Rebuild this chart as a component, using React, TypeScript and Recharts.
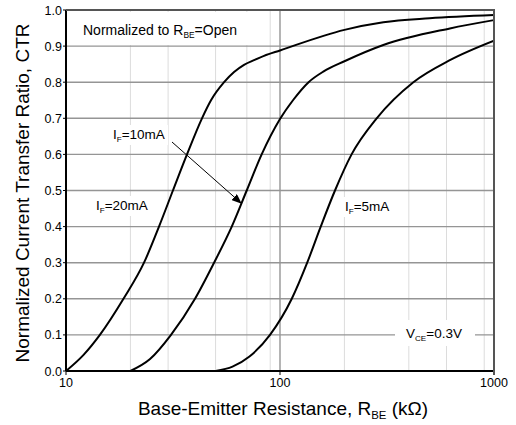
import { LineChart, Line, XAxis, YAxis, CartesianGrid } from "recharts";

// R_BE (kOhm) / normalized CTR, one pair of lists per curve
const if20R = [10, 12.05, 14.4, 18.56, 23.15, 27.2, 31.6, 36.76, 43.2, 47.6, 54.8, 61, 67.9, 75.6, 84.2, 100, 200, 304, 500, 1000];
const if20Ctr = [0, 0.044, 0.1, 0.2, 0.3, 0.4, 0.5, 0.6, 0.7, 0.75, 0.8, 0.828, 0.848, 0.861, 0.873, 0.888, 0.945, 0.966, 0.977, 0.986];

const if10R = [20, 24.7, 30.95, 40.07, 49.2, 59.5, 69.9, 82.1, 100, 115, 136, 160, 200, 304, 622, 1000];
const if10Ctr = [0, 0.033, 0.1, 0.2, 0.3, 0.4, 0.5, 0.6, 0.698, 0.75, 0.8, 0.83, 0.858, 0.903, 0.949, 0.972];

const if5R = [50, 60, 72, 89.8, 113.5, 134, 155, 180.7, 216, 283, 420, 622, 1000];
const if5Ctr = [0, 0.012, 0.04, 0.1, 0.2, 0.3, 0.4, 0.5, 0.6, 0.7, 0.8, 0.861, 0.915];

const xTicks = [10, 100, 1000];
const xMinorGrid = [20, 30, 40, 50, 60, 70, 80, 90, 200, 300, 400, 500, 600, 700, 800, 900];
const xMajorGrid = [100];
const yMajorTicks = [0, 0.1, 0.2, 0.3, 0.4, 0.5, 0.6, 0.7, 0.8, 0.9, 1.0];
const yTicks = [0, 0.05, 0.1, 0.15, 0.2, 0.25, 0.3, 0.35, 0.4, 0.45, 0.5, 0.55, 0.6, 0.65, 0.7, 0.75, 0.8, 0.85, 0.9, 0.95, 1.0];

const toRows = (rs: number[], vs: number[]) => rs.map((r, i) => ({ r, ctr: vs[i] }));

const FONT = "'Liberation Sans', Arial, sans-serif";

function YTick(props: any) {
  const { x, y, payload } = props;
  const v = payload.value;
  if (Math.round(v * 100) % 10 !== 0) return <g />;
  return (
    <text x={x} y={y} dy="0.36em" textAnchor="end" fontSize={12.5} fontFamily={FONT} fill="#000">
      {v.toFixed(1)}
    </text>
  );
}

function XTick(props: any) {
  const { x, y, payload } = props;
  return (
    <text x={x} y={y} dy="0.72em" textAnchor="middle" fontSize={12.5} fontFamily={FONT} fill="#000">
      {payload.value}
    </text>
  );
}

function Sub({ main, sub, rest }: { main: string; sub: string; rest: string }) {
  return (
    <>
      {main}
      <tspan fontSize="0.6em" dy="0.35em">{sub}</tspan>
      <tspan dy="-0.21em">{rest}</tspan>
    </>
  );
}

export default function App() {
  const d20 = toRows(if20R, if20Ctr);
  const d10 = toRows(if10R, if10Ctr);
  const d5 = toRows(if5R, if5Ctr);

  return (
    <div style={{ position: "absolute", left: 0, top: 0, width: 516, height: 425, background: "#fff" }}>
      <LineChart width={516} height={425} margin={{ top: 10, right: 22, left: 0, bottom: 0 }}>
        <CartesianGrid horizontal={false} verticalValues={xMinorGrid} stroke="#dcdcdc" strokeWidth={1} />
        <CartesianGrid
          horizontalValues={yMajorTicks}
          verticalValues={xMajorGrid}
          stroke="#959595"
          strokeWidth={1.4}
        />
        <XAxis
          dataKey="r"
          type="number"
          scale="log"
          domain={[10, 1000]}
          ticks={xTicks}
          allowDataOverflow
          height={54}
          tick={<XTick />}
          tickSize={4}
          tickMargin={3}
          axisLine={{ stroke: "#000", strokeWidth: 2 }}
          tickLine={{ stroke: "#000" }}
        />
        <YAxis
          type="number"
          domain={[0, 1]}
          ticks={yTicks}
          width={66}
          tick={<YTick />}
          tickSize={3}
          tickMargin={1}
          axisLine={{ stroke: "#000", strokeWidth: 2 }}
          tickLine={{ stroke: "#000" }}
        />
        <Line data={d20} dataKey="ctr" type="monotone" stroke="#000" strokeWidth={2} dot={false} isAnimationActive={false} />
        <Line data={d10} dataKey="ctr" type="monotone" stroke="#000" strokeWidth={2} dot={false} isAnimationActive={false} />
        <Line data={d5} dataKey="ctr" type="monotone" stroke="#000" strokeWidth={2} dot={false} isAnimationActive={false} />
      </LineChart>

      <svg
        width={516}
        height={425}
        style={{ position: "absolute", left: 0, top: 0, pointerEvents: "none" }}
        fontFamily={FONT}
      >
        <defs>
          <marker id="arrowHead" markerWidth="10" markerHeight="8" refX="9" refY="4" orient="auto" markerUnits="userSpaceOnUse">
            <path d="M0,0 L10,4 L0,8 Z" fill="#000" />
          </marker>
        </defs>

        {/* frame top / right */}
        <line x1={66} y1={10} x2={495} y2={10} stroke="#555" strokeWidth={2} />
        <line x1={494} y1={9} x2={494} y2={375} stroke="#555" strokeWidth={2} />

        {/* annotation boxes */}
        <rect x={68} y={12} width={180} height={33} fill="#fff" />
        <rect x={108} y={125} width={60} height={20} fill="#fff" />
        <rect x={92} y={196} width={58} height={20} fill="#fff" />
        <rect x={340} y={197} width={54} height={20} fill="#fff" />
        <rect x={395} y={320} width={80} height={26} fill="#fff" />

        <text x={83} y={35} fontSize={14} fill="#000">
          <Sub main="Normalized to R" sub="BE" rest="=Open" />
        </text>
        <text x={113} y={139} fontSize={13.5} fill="#000">
          <Sub main="I" sub="F" rest="=10mA" />
        </text>
        <text x={96} y={210} fontSize={13.5} fill="#000">
          <Sub main="I" sub="F" rest="=20mA" />
        </text>
        <text x={345} y={211} fontSize={13.5} fill="#000">
          <Sub main="I" sub="F" rest="=5mA" />
        </text>
        <text x={406} y={338} fontSize={13.5} fill="#000">
          <Sub main="V" sub="CE" rest="=0.3V" />
        </text>

        <line x1={172} y1={142} x2={241} y2={203} stroke="#000" strokeWidth={1} markerEnd="url(#arrowHead)" />

        {/* axis titles */}
        <text x={283} y={415} fontSize={19} textAnchor="middle" fill="#000">
          <Sub main="Base-Emitter Resistance, R" sub="BE" rest=" (kΩ)" />
        </text>
        <text
          x={0}
          y={0}
          fontSize={19}
          textAnchor="middle"
          fill="#000"
          transform="translate(29 193) rotate(-90)"
        >
          Normalized Current Transfer Ratio, CTR
        </text>
      </svg>
    </div>
  );
}
